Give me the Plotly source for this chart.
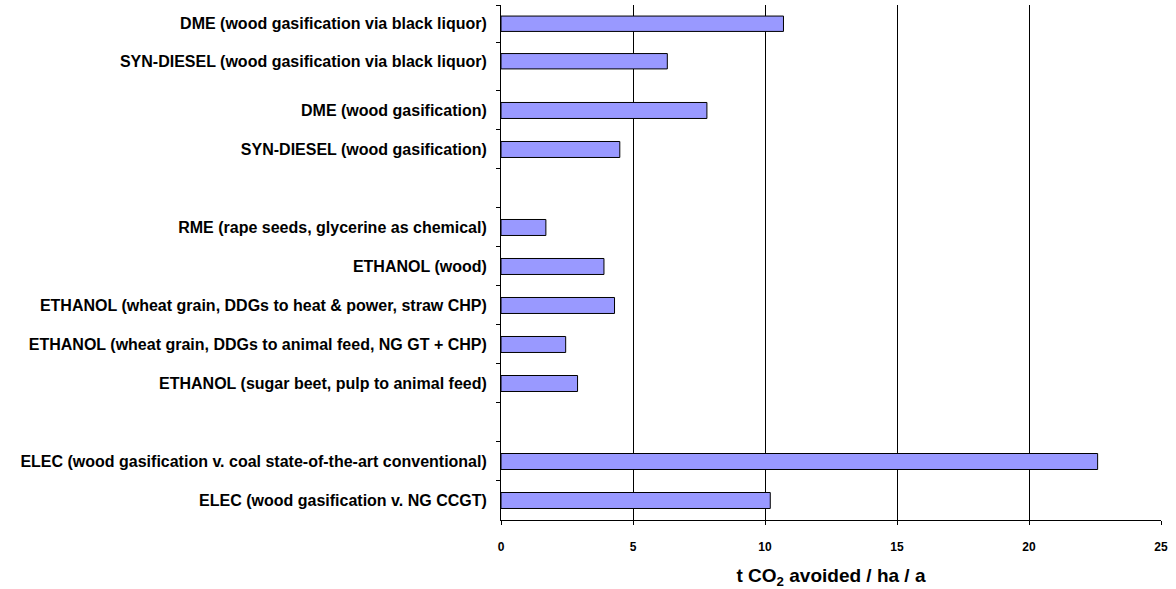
import plotly.graph_objects as go

# Black-liquor routes (upper panel)
labels_upper = [
    "DME (wood gasification via black liquor)",
    "SYN-DIESEL (wood gasification via black liquor)",
]
values_upper = [10.7, 6.3]

# Remaining fuel and electricity routes (lower panel); blank rows separate the groups
labels_lower = [
    "DME (wood gasification)",
    "SYN-DIESEL (wood gasification)",
    " ",
    "RME (rape seeds, glycerine as chemical)",
    "ETHANOL (wood)",
    "ETHANOL (wheat grain, DDGs to heat & power, straw CHP)",
    "ETHANOL (wheat grain, DDGs to animal feed, NG GT + CHP)",
    "ETHANOL (sugar beet, pulp to animal feed)",
    "  ",
    "ELEC (wood gasification v. coal state-of-the-art conventional)",
    "ELEC (wood gasification v. NG CCGT)",
]
values_lower = [7.8, 4.5, None, 1.7, 3.9, 4.3, 2.45, 2.9, None, 22.6, 10.2]

x_ticks = [0, 5, 10, 15, 20, 25]

FONT = "Liberation Sans, Arial, sans-serif"
BAR_FILL = "#9999FF"

bar_style = dict(
    orientation="h",
    marker=dict(color=BAR_FILL, line=dict(color="#000000", width=1)),
    showlegend=False,
    hoverinfo="x+y",
)

fig = go.Figure()
fig.add_trace(go.Bar(x=values_lower, y=labels_lower, xaxis="x", yaxis="y", **bar_style))
fig.add_trace(go.Bar(x=values_upper, y=labels_upper, xaxis="x2", yaxis="y2", **bar_style))

split = 0.8544  # boundary between the two panels (paper fraction)

common_x = dict(
    range=[0, 25],
    tickvals=x_ticks,
    showgrid=True,
    gridcolor="#000000",
    gridwidth=1,
    zeroline=False,
    fixedrange=True,
)

common_y = dict(
    type="category",
    showline=True,
    linecolor="#000000",
    linewidth=1,
    ticks="outside",
    tickson="boundaries",
    ticklen=4,
    tickcolor="#000000",
    showgrid=False,
    zeroline=False,
    automargin=False,
    ticklabelstandoff=10,
    tickfont=dict(family=FONT, size=16, color="#000000", weight="bold"),
)

fig.update_layout(
    width=1176,
    height=589,
    margin=dict(l=501, r=15, t=5, b=69),
    paper_bgcolor="#FFFFFF",
    plot_bgcolor="#FFFFFF",
    bargap=0.59,
    xaxis=dict(
        **common_x,
        anchor="y",
        domain=[0, 1],
        automargin=False,
        showline=True,
        linecolor="#000000",
        linewidth=1,
        ticks="outside",
        ticklen=4,
        tickcolor="#000000",
        ticklabelstandoff=12,
        tickfont=dict(family=FONT, size=12, color="#000000", weight="bold"),
        title=dict(
            text="t CO<sub>2</sub> avoided / ha / a",
            font=dict(family=FONT, size=19, color="#000000", weight="bold"),
            standoff=19,
        ),
    ),
    xaxis2=dict(
        **common_x,
        anchor="y2",
        matches="x",
        showticklabels=False,
        showline=False,
        ticks="",
    ),
    yaxis=dict(
        **common_y,
        anchor="x",
        domain=[0, split],
        categoryorder="array",
        categoryarray=labels_lower,
        range=[10.5, -0.782],
    ),
    yaxis2=dict(
        **common_y,
        anchor="x2",
        domain=[split, 1],
        categoryorder="array",
        categoryarray=labels_upper,
        range=[1.5, -0.5],
    ),
)

fig.write_html("out.html")
